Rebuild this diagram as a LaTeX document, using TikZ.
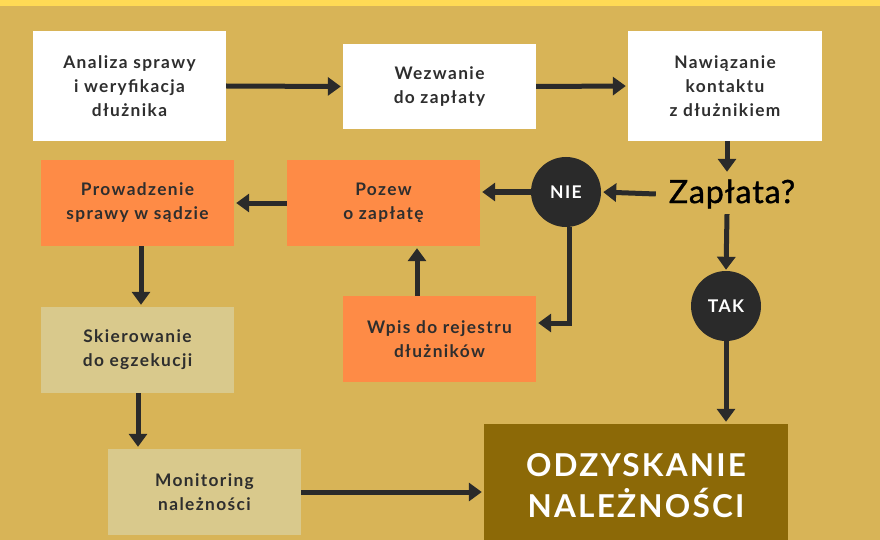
\documentclass[tikz,border=0pt]{standalone}
\usepackage{fontspec}
\setmainfont{Lato}[LetterSpace=8]
\newfontfamily\zapfont{Lato}[LetterSpace=3,FakeBold=1.2]
\newfontfamily\bigfont{Lato}[LetterSpace=7]
\usetikzlibrary{arrows.meta}
\definecolor{bgc}{HTML}{D8B457}
\definecolor{topc}{HTML}{FFDA55}
\definecolor{orangec}{HTML}{FE8B46}
\definecolor{khakic}{HTML}{D9C98C}
\definecolor{brownc}{HTML}{8C6907}
\definecolor{darkc}{HTML}{2A2A2A}
\definecolor{textc}{HTML}{2E2E2E}
\tikzset{
  box/.style={rectangle, inner sep=0pt, minimum width=193pt, minimum height=86pt,
    align=center, text=textc, font=\fontsize{17.3}{24}\selectfont\bfseries},
  whitebox/.style={box, fill=white},
  orangebox/.style={box, fill=orangec},
  khakibox/.style={box, fill=khakic},
  decision/.style={circle, fill=darkc, inner sep=0pt, minimum size=70pt,
    text=white, font=\fontsize{17.5}{20}\selectfont\bfseries},
  arr/.style={draw=darkc, line width=5pt, -{Triangle[width=18pt,length=13pt]}, shorten >=2pt}
}
\begin{document}
\begin{tikzpicture}[x=1pt,y=-1pt]
\fill[bgc] (0,0) rectangle (880,540);
\fill[topc] (0,0) rectangle (880,6);
\useasboundingbox (0,0) rectangle (880,540);

\node[whitebox, minimum height=110pt] (analiza) at (129.5,86) {Analiza sprawy\\i weryfikacja\\dłużnika};
\node[whitebox, minimum height=85pt] (wezwanie) at (439.5,86.5) {Wezwanie\\do zapłaty};
\node[whitebox, minimum width=194pt, minimum height=110pt] (kontakt) at (725,86) {Nawiązanie\\kontaktu\\z dłużnikiem};

\node[inner sep=0pt, minimum width=152pt, minimum height=40pt, text=black,
  font=\zapfont\fontsize{32}{36}\selectfont] (zaplata) at (732,194) {Zapłata?};

\node[decision] (nie) at (566,192) {NIE};
\node[decision] (tak) at (726,306) {TAK};

\node[orangebox] (pozew) at (383.5,203) {Pozew\\o zapłatę};
\node[orangebox] (prow) at (137.5,203) {Prowadzenie\\sprawy w sądzie};
\node[orangebox] (wpis) at (439.5,339) {Wpis do rejestru\\dłużników};
\node[khakibox] (skier) at (137.5,350) {Skierowanie\\do egzekucji};
\node[khakibox] (monit) at (204.5,492) {Monitoring\\należności};

\node[rectangle, fill=brownc, inner sep=0pt, minimum width=304pt, minimum height=124pt,
  align=center, text=white, font=\bigfont\fontsize{31.5}{41}\selectfont\bfseries] (odz) at (636,486)
  {ODZYSKANIE\\NALEŻNOŚCI};

\draw[arr] (analiza.east) -- (wezwanie.west);
\draw[arr] (wezwanie.east) -- (kontakt.west);
\draw[arr] (kontakt.south -| 727,0) -- (zaplata.north -| 727,0);
\draw[arr] (zaplata.west) -- (nie.east);
\draw[arr] (zaplata.south -| 727,0) -- ([yshift=-1pt]tak.north);
\draw[arr] (tak.south) -- (tak.south |- odz.north);
\draw[arr] (nie.west) -- (nie.west -| pozew.east);
\draw[arr] (nie.south -| 569,0) -- (569,323) -- (wpis.east |- 0,323);
\draw[arr] (wpis.north -| 417,0) -- (pozew.south -| 417,0);
\draw[arr] (pozew.west) -- (prow.east);
\draw[arr] (prow.south -| 141,0) -- (skier.north -| 141,0);
\draw[arr] (skier.south -| 138,0) -- (monit.north -| 138,0);
\draw[arr] (monit.east) -- (monit.east -| odz.west);
\end{tikzpicture}
\end{document}
